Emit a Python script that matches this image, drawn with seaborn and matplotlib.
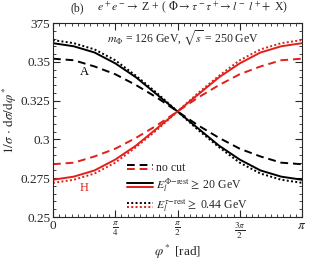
import numpy as np
import pandas as pd
from matplotlib import pyplot as plt
from matplotlib.lines import Line2D
from matplotlib.legend_handler import HandlerBase
from matplotlib.ticker import MultipleLocator, FixedLocator
import seaborn as sb

sb.set_style('ticks')
plt.rcParams.update({'font.family': ['Liberation Serif', 'DejaVu Serif'],
                     'mathtext.fontset': 'stix',
                     'font.size': 9.5,
                     'xtick.direction': 'in',
                     'ytick.direction': 'in',
                     'xtick.top': True,
                     'ytick.right': True})

phi_k = np.arange(13)
A_nocut = [0.352, 0.351, 0.347, 0.342, 0.335, 0.327, 0.318, 0.309, 0.301, 0.294, 0.289, 0.285, 0.284]
A_phicut = [0.362, 0.360, 0.356, 0.349, 0.340, 0.329, 0.318, 0.307, 0.296, 0.287, 0.280, 0.276, 0.274]
A_taucut = [0.364, 0.362, 0.358, 0.351, 0.341, 0.330, 0.318, 0.306, 0.295, 0.285, 0.278, 0.274, 0.272]
H_nocut = A_nocut[::-1]
H_phicut = A_phicut[::-1]
H_taucut = A_taucut[::-1]

ytick_vals = [0.25, 0.275, 0.3, 0.325, 0.35, 0.375]
ytick_labels = ['0.25', '0.275', '0.3', '0.325', '0.35', '375']
xtick_labels = ['0', r'$\frac{\pi}{4}$', r'$\frac{\pi}{2}$', r'$\frac{3\pi}{2}$', r'$\pi$']

phi = phi_k * np.pi / 12
rows = []
for name, vals in [('A_nocut', A_nocut), ('A_phicut', A_phicut), ('A_taucut', A_taucut),
                   ('H_nocut', H_nocut), ('H_phicut', H_phicut), ('H_taucut', H_taucut)]:
	for p, v in zip(phi, vals):
		rows.append({'phi': p, 'val': v, 'curve': name})
df = pd.DataFrame(rows)

RED = '#e0201b'
styles = {'nocut': (0, (4, 2.5)), 'phicut': '-', 'taucut': (0, (1, 1.2))}


class TwoLines(HandlerBase):
	def __init__(self, ls):
		super().__init__()
		self.ls = ls

	def create_artists(self, legend, orig, xd, yd, w, h, fontsize, trans):
		l1 = Line2D([xd, xd + w], [yd + h * 0.68, yd + h * 0.68], color='black', lw=1.4, linestyle=self.ls, transform=trans)
		l2 = Line2D([xd, xd + w], [yd + h * 0.25, yd + h * 0.25], color=RED, lw=1.4, linestyle=self.ls, transform=trans)
		return [l1, l2]


fig = plt.figure(figsize=(3.1, 2.61), dpi=100)
ax = fig.add_axes([53 / 310, 1 - 217 / 261, 249 / 310, 194 / 261])

for key, ls in styles.items():
	sb.lineplot(x='phi', y='val', data=df[df['curve'] == 'A_' + key], ax=ax, color='black',
				linestyle=ls, lw=1.4, estimator=None)
	sb.lineplot(x='phi', y='val', data=df[df['curve'] == 'H_' + key], ax=ax, color=RED,
				linestyle=ls, lw=1.4, estimator=None)

ax.set_xlim(0, np.pi)
ax.set_ylim(0.25, 0.375)
ax.xaxis.set_major_locator(FixedLocator([0, np.pi / 4, np.pi / 2, 3 * np.pi / 4, np.pi]))
ax.set_xticklabels(xtick_labels)
ax.xaxis.set_minor_locator(MultipleLocator(np.pi / 40))
ax.set_yticks(ytick_vals)
ax.set_yticklabels(ytick_labels)
ax.yaxis.set_minor_locator(MultipleLocator(0.005))
ax.tick_params(which='major', length=5, width=0.8, labelsize=9.5, pad=2)
ax.tick_params(which='minor', length=2.5, width=0.6)
for s in ax.spines.values():
	s.set_linewidth(0.8)

ax.set_xlabel(r'$\varphi^*$ [rad]', labelpad=2)
ax.set_ylabel(r'$1/\sigma\,\cdot\,\mathrm{d}\sigma/\mathrm{d}\varphi^*$', labelpad=1)

ax.text(0.39, 0.3434, 'A', fontsize=9, color='black', ha='center', va='center')
ax.text(0.39, 0.2684, 'H', fontsize=9, color=RED, ha='center', va='center')
ax.text(0.52, 0.925, r'$m_\Phi$ = 126 GeV, $\sqrt{s}$ = 250 GeV', transform=ax.transAxes,
		ha='center', va='center', fontsize=8.5)
fig.text(0.25, 0.968, '(b)', ha='center', va='center', fontsize=8.5)
fig.text(0.62, 0.968, r'$e^+e^-\!\rightarrow$ Z + ( $\Phi\rightarrow\tau^-\tau^+\!\rightarrow l^-\ l^+\! +$ X)',
		 ha='center', va='center', fontsize=8.5)

keys = ['nocut', 'phicut', 'taucut']
handles = [Line2D([], [], linestyle=styles[k]) for k in keys]
labels = ['no cut', r'$E_l^{\Phi\mathrm{-rest}}\geq$ 20 GeV', r'$E_l^{\tau\mathrm{-rest}}\geq$ 0.44 GeV']
ax.legend(handles, labels, handler_map={h: TwoLines(styles[k]) for h, k in zip(handles, keys)},
		  loc='upper left', bbox_to_anchor=(0.297, 0.285), frameon=False, handlelength=2.2,
		  handletextpad=0.3, labelspacing=0.25, fontsize=8.5, borderaxespad=0, borderpad=0)

plt.savefig('out.png', dpi=100)
